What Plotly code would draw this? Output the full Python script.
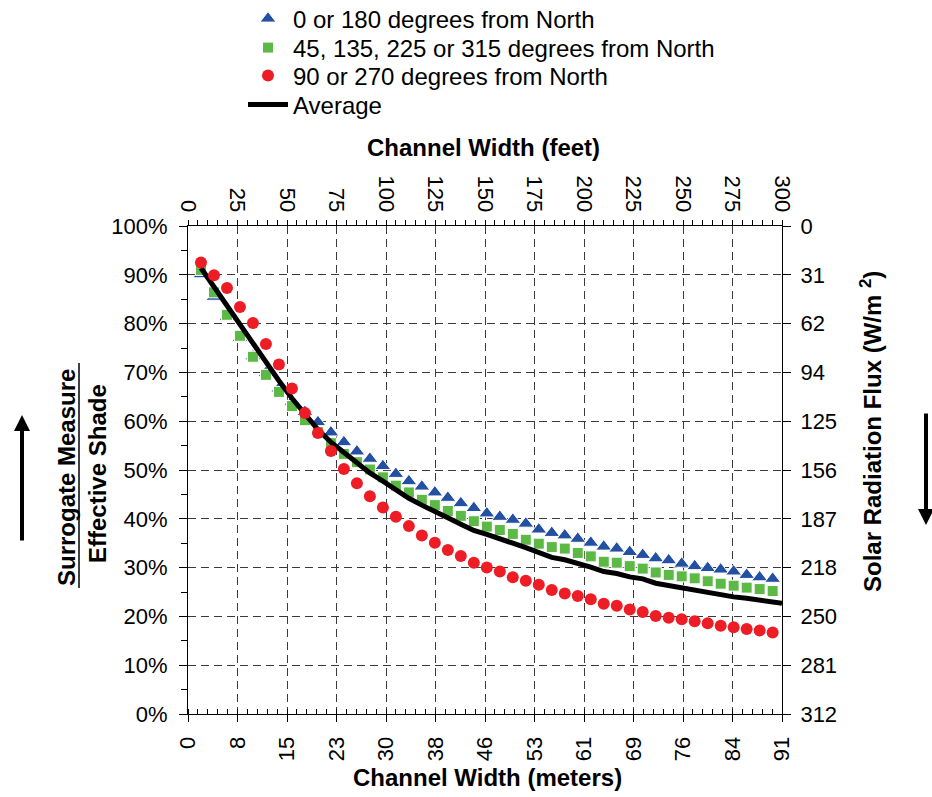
import plotly.graph_objects as go

# ---- data ----
width_m = [2, 4, 6, 8, 10, 12, 14, 16, 18, 20, 22, 24, 26, 28, 30, 32, 34, 36, 38, 40,
           42, 44, 46, 48, 50, 52, 54, 56, 58, 60, 62, 64, 66, 68, 70, 72, 74, 76, 78, 80,
           82, 84, 86, 88, 90]
shade_0_180 = [90.1, 85.5, 81.4, 77.1, 73.3, 69.9, 66.7, 64.0, 61.9, 59.8, 57.7, 55.7, 53.8,
               52.3, 50.8, 49.2, 47.7, 46.6, 45.4, 44.3, 43.2, 42.2, 41.1, 40.4, 39.8, 39.0,
               37.8, 37.1, 36.6, 35.9, 35.1, 34.3, 33.9, 33.2, 32.6, 31.9, 31.5, 30.8, 30.3,
               29.9, 29.6, 29.2, 28.5, 28.0, 27.7]
shade_45 = [91.0, 86.4, 81.8, 77.5, 73.2, 69.5, 66.0, 63.1, 60.2, 57.8, 55.5, 53.3, 51.6,
            50.1, 48.5, 46.8, 45.4, 43.9, 42.8, 41.6, 40.6, 39.5, 38.4, 37.7, 36.9, 35.7,
            34.9, 34.2, 33.9, 33.0, 32.3, 31.2, 31.0, 30.3, 29.8, 29.0, 28.5, 28.2, 27.8,
            27.2, 26.7, 26.3, 25.9, 25.6, 25.2]
shade_90_270 = [92.5, 89.9, 87.3, 83.4, 80.1, 75.8, 71.6, 66.7, 61.7, 57.6, 53.9, 50.2, 47.3,
                44.6, 42.3, 40.4, 38.5, 36.6, 35.1, 33.6, 32.4, 31.0, 30.0, 29.2, 28.0, 27.3,
                26.5, 25.4, 24.7, 24.2, 23.5, 22.6, 22.2, 21.4, 20.9, 20.1, 19.7, 19.4, 19.0,
                18.6, 18.1, 17.8, 17.4, 17.1, 16.7]
avg_width_m = width_m + [91.44]
avg_shade = [91.4, 87.5, 83.7, 80.0, 76.0, 72.1, 68.3, 64.7, 61.3, 58.3, 55.7, 53.6, 51.4,
             49.4, 47.7, 45.9, 44.2, 42.8, 41.4, 40.2, 38.9, 37.6, 36.8, 35.8, 35.0, 34.1,
             33.0, 32.1, 31.6, 30.9, 30.1, 29.2, 28.8, 28.1, 27.7, 26.8, 26.3, 25.9, 25.5,
             24.8, 24.4, 24.0, 23.7, 23.3, 22.9, 22.7]

feet_ticks = [0, 25, 50, 75, 100, 125, 150, 175, 200, 225, 250, 275, 300]
feet_labels = [str(v) for v in feet_ticks]
meter_labels = ["0", "8", "15", "23", "30", "38", "46", "53", "61", "69", "76", "84", "91"]
pct_ticks = [0, 10, 20, 30, 40, 50, 60, 70, 80, 90, 100]
pct_labels = [f"{v}%" for v in pct_ticks]
flux_labels = ["312", "281", "250", "218", "187", "156", "125", "94", "62", "31", "0"]

FT_PER_M = 3.28084
x_ft = [m * FT_PER_M for m in width_m]
avg_x_ft = [m * FT_PER_M for m in avg_width_m]

FONT = "Liberation Sans, Arial, sans-serif"
BLUE = "#2350A3"
GREEN = "#5DB946"
RED = "#EE1C25"

fig = go.Figure()
fig.add_trace(go.Scatter(x=x_ft, y=shade_0_180, mode="markers", name="0 or 180 degrees from North",
                         legend="legend",
                         marker=dict(symbol="triangle-up", size=14, color=BLUE,
                                     line=dict(color="white", width=1))))
fig.add_trace(go.Scatter(x=x_ft, y=shade_45, mode="markers",
                         name="45, 135, 225 or 315 degrees from North",
                         legend="legend2",
                         marker=dict(symbol="square", size=11, color=GREEN,
                                     line=dict(color="white", width=1))))
fig.add_trace(go.Scatter(x=avg_x_ft, y=avg_shade, mode="lines", name="Average",
                         legend="legend4",
                         line=dict(color="black", width=5)))
# drawn on the overlaying (top / right) axes, which share the same ranges, so it is on top
fig.add_trace(go.Scatter(x=x_ft, y=shade_90_270, mode="markers", name="90 or 270 degrees from North",
                         legend="legend3", xaxis="x2", yaxis="y2",
                         marker=dict(symbol="circle", size=12, color=RED)))

tickfont = dict(family=FONT, size=22, color="black")
grid = dict(showgrid=True, gridcolor="#3a3a3a", griddash="8px,5px", gridwidth=1)

# plot area in page pixels
W, H = 932, 797
PX0, PX1, PY0, PY1 = 188, 782, 226, 714


def px(xp):
    return (xp - PX0) / (PX1 - PX0)


def py(yp):
    return (PY1 - yp) / (PY1 - PY0)


legend_font = dict(family=FONT, size=24, color="black")
legend_rows = [19, 48, 76, 105]
legend_common = dict(x=px(243), xanchor="left", yanchor="middle", font=legend_font,
                     bgcolor="rgba(0,0,0,0)", itemwidth=40)

fig.update_layout(
    width=W, height=H,
    margin=dict(l=PX0, r=W - PX1, t=PY0, b=H - PY1, autoexpand=False),
    paper_bgcolor="white", plot_bgcolor="white",
    font=dict(family=FONT, size=22, color="black"),
    showlegend=True,
    legend=dict(y=py(legend_rows[0]), **legend_common),
    legend2=dict(y=py(legend_rows[1]), **legend_common),
    legend3=dict(y=py(legend_rows[2]), **legend_common),
    legend4=dict(y=py(legend_rows[3]), **legend_common),
    xaxis=dict(range=[0, 300], tickmode="array", tickvals=feet_ticks, ticktext=meter_labels,
               tickangle=-90, tickfont=tickfont, ticks="outside", ticklen=7, tickcolor="black",
               ticklabelstandoff=6,
               showline=True, linecolor="black", linewidth=1, zeroline=False,
               minor=dict(dtick=5, ticks="inside", ticklen=5, tickcolor="black", showgrid=False),
               **grid),
    xaxis2=dict(range=[0, 300], overlaying="x", side="top", anchor="y2", tickmode="array",
                tickvals=feet_ticks, ticktext=feet_labels, tickangle=90, tickfont=tickfont,
                ticks="outside", ticklen=5, tickcolor="black", ticklabelstandoff=0,
                minor=dict(dtick=5, ticks="outside", ticklen=5, tickcolor="black", showgrid=False),
                showline=True, linecolor="black", linewidth=1, showgrid=False, zeroline=False),
    yaxis=dict(range=[0, 100], tickmode="array", tickvals=pct_ticks, ticktext=pct_labels,
               tickfont=tickfont, ticks="outside", ticklen=8, tickcolor="black",
               ticklabelstandoff=7,
               showline=True, linecolor="black", linewidth=1, zeroline=False,
               minor=dict(dtick=5, ticks="outside", ticklen=6, tickcolor="black", showgrid=False),
               **grid),
    yaxis2=dict(range=[0, 100], overlaying="y", side="right", anchor="x2", tickmode="array",
                tickvals=pct_ticks, ticktext=flux_labels, tickfont=tickfont,
                ticks="outside", ticklen=8, tickcolor="black", ticklabelstandoff=5,
                showline=True, linecolor="black", linewidth=1, showgrid=False, zeroline=False),
)

title_font = dict(family=FONT, size=24, color="black")
annotations = [
    dict(text="<b>Channel Width (feet)</b>", x=px(483), y=py(147), xref="paper", yref="paper",
         showarrow=False, font=title_font, xanchor="center", yanchor="middle"),
    dict(text="<b>Channel Width (meters)</b>", x=px(487), y=py(777), xref="paper", yref="paper",
         showarrow=False, font=title_font, xanchor="center", yanchor="middle"),
    dict(text="<b>Solar Radiation Flux (W/m <sup>2</sup>)</b>", x=px(871), y=py(432),
         xref="paper", yref="paper", showarrow=False, font=title_font, textangle=-90,
         xanchor="center", yanchor="middle"),
    dict(text="<b>Surrogate Measure</b>", x=px(66), y=py(478), xref="paper", yref="paper",
         showarrow=False, font=title_font, textangle=-90, xanchor="center", yanchor="middle"),
    dict(text="<b>Effective Shade</b>", x=px(97), y=py(474), xref="paper", yref="paper",
         showarrow=False, font=title_font, textangle=-90, xanchor="center", yanchor="middle"),
    # arrows
    dict(text="", x=px(22), y=py(415), xref="paper", yref="paper", showarrow=True,
         ax=0, ay=127, axref="pixel", ayref="pixel", arrowhead=2, arrowsize=0.8,
         arrowwidth=4, arrowcolor="black"),
    dict(text="", x=px(926), y=py(525), xref="paper", yref="paper", showarrow=True,
         ax=0, ay=-113, axref="pixel", ayref="pixel", arrowhead=2, arrowsize=0.8,
         arrowwidth=4, arrowcolor="black"),
]
fig.update_layout(annotations=annotations)
fig.add_shape(type="line", xref="paper", yref="paper", x0=px(79), x1=px(79),
              y0=py(588), y1=py(363), line=dict(color="black", width=1.5))

fig.write_html("out.html", config={"displayModeBar": False},
               post_script="document.body.style.margin='0';document.body.style.overflow='hidden';")
